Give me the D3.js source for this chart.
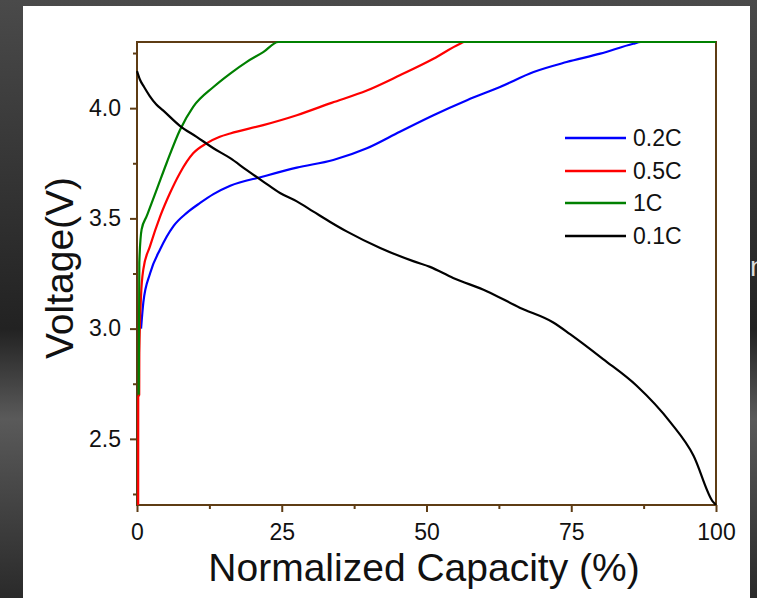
<!DOCTYPE html>
<html><head>
<meta charset="utf-8">
<script src="https://d3js.org/d3.v7.min.js"></script>
<style>
  body { margin: 0; background: #2c2c2c; }
  svg { display: block; }
  text { font-family: "Liberation Sans", Arial, sans-serif; }
</style>
</head>
<body>
<svg id="chart" width="757" height="598"></svg>
<script>
// series: [capacity %, voltage V]
const blue02 = [[0.7,3.0],[1.1,3.12],[2.25,3.25],[4.0,3.36],[6.3,3.465],[8.6,3.525],[10.9,3.57],
  [13.2,3.61],[16.1,3.648],[21.8,3.69],[27.6,3.73],[33.9,3.765],[39.7,3.818],[45.4,3.893],
  [51.2,3.968],[57.0,4.036],[62.7,4.096],[68.5,4.164],[74.2,4.209],[80.0,4.247],[85.7,4.292],
  [87,4.3],[100,4.3]];
const red05 = [[0.2,2.2],[0.21,2.69],[0.38,2.7],[0.4,2.89],[0.7,3.15],[1.1,3.27],[2.25,3.374],[4.0,3.509],
  [5.7,3.615],[7.4,3.705],[9.7,3.795],[12.0,3.84],[14.3,3.87],[16.1,3.885],[21.8,3.923],
  [27.6,3.968],[33.6,4.024],[39.7,4.08],[45.4,4.149],[51.2,4.224],[55.8,4.292],[56.5,4.3],[100,4.3]];
const green1 = [[0.3,2.7],[0.4,3.3],[0.8,3.45],[1.67,3.51],[3.4,3.63],[5.1,3.75],[7.4,3.9],
  [9.7,4.006],[13.2,4.096],[16.1,4.157],[18.9,4.209],[21.8,4.254],[24.4,4.3],[100,4.3]];
const black01 = [[0,4.168],[0.5,4.13],[1.2,4.097],[2.2,4.055],[3.3,4.018],[4.5,3.99],[7.4,3.92],
  [10.3,3.87],[13.2,3.818],[16.1,3.773],[18.9,3.72],[21.8,3.667],[24.7,3.615],[27.6,3.577],
  [30.4,3.532],[33.3,3.485],[36.2,3.441],[42.0,3.366],[47.7,3.306],[50.6,3.28],[54.6,3.23],
  [60.4,3.17],[66.1,3.095],[71.9,3.028],[74.8,2.975],[80.5,2.862],[86.3,2.741],[92.1,2.576],
  [96.1,2.425],[99.5,2.214],[100,2.2]];

const seriesNames = ["0.2C", "0.5C", "1C", "0.1C"];
const seriesColors = ["#0000ff", "#ff0000", "#008000", "#000000"];
const seriesData = [blue02, red05, green1, black01];

const xTicks = [0, 25, 50, 75, 100];
const xMinor = [12.5, 37.5, 62.5, 87.5];
const yTicks = [2.5, 3.0, 3.5, 4.0];
const yMinor = [2.25, 2.75, 3.25, 3.75, 4.25];

const svg = d3.select("#chart");
const axisColor = "#5e3c14";

// dark surround + white panel
const grad = svg.append("defs").append("linearGradient").attr("id", "bg")
  .attr("x1", 0).attr("y1", 0).attr("x2", 0).attr("y2", 1);
grad.append("stop").attr("offset", "0%").attr("stop-color", "#4a4a4a");
grad.append("stop").attr("offset", "55%").attr("stop-color", "#222");
grad.append("stop").attr("offset", "70%").attr("stop-color", "#5a5a5a");
grad.append("stop").attr("offset", "100%").attr("stop-color", "#2a2a2a");
svg.append("rect").attr("width", 757).attr("height", 598).attr("fill", "url(#bg)");
svg.append("text").attr("x", 750).attr("y", 276).attr("font-size", 28).attr("fill", "#ddd").text("n");
svg.append("rect").attr("x", 23).attr("y", 6).attr("width", 727).attr("height", 592).attr("fill", "#fff");

const plotLeft = 137, plotTop = 42, plotW = 579, plotH = 463;
const x = d3.scaleLinear().domain([0, 100]).range([plotLeft, plotLeft + plotW]);
const y = d3.scaleLinear().domain([2.2, 4.3]).range([plotTop + plotH, plotTop]);

// frame first, curves are drawn over it
svg.append("rect").attr("x", plotLeft).attr("y", plotTop).attr("width", plotW).attr("height", plotH)
  .attr("fill", "none").attr("stroke", axisColor).attr("stroke-width", 2);

svg.append("clipPath").attr("id", "clip").append("rect")
  .attr("x", plotLeft - 1).attr("y", plotTop - 2).attr("width", plotW + 2).attr("height", plotH + 2);

const line = d3.line().x(d => x(d[0])).y(d => y(d[1])).curve(d3.curveMonotoneX);

svg.append("g").attr("clip-path", "url(#clip)")
  .selectAll("path").data(seriesData).join("path")
  .attr("d", line)
  .attr("fill", "none")
  .attr("stroke", (d, i) => seriesColors[i])
  .attr("stroke-width", 2.2);

// axes
const xAxis = svg.append("g").attr("transform", "translate(0," + (plotTop + plotH) + ")")
  .call(d3.axisBottom(x).tickValues(xTicks).tickSize(7).tickPadding(12));
const xAxisMinor = svg.append("g").attr("transform", "translate(0," + (plotTop + plotH) + ")")
  .call(d3.axisBottom(x).tickValues(xMinor).tickSize(4).tickFormat(""));
const yAxis = svg.append("g").attr("transform", "translate(" + plotLeft + ",0)")
  .call(d3.axisLeft(y).tickValues(yTicks).tickFormat(d3.format(".1f")).tickSize(7).tickPadding(9));
const yAxisMinor = svg.append("g").attr("transform", "translate(" + plotLeft + ",0)")
  .call(d3.axisLeft(y).tickValues(yMinor).tickSize(4).tickFormat(""));

[xAxis, xAxisMinor, yAxis, yAxisMinor].forEach(a => {
  a.select(".domain").remove();
  a.selectAll("line").attr("stroke", axisColor).attr("stroke-width", 2);
  a.selectAll("text").attr("font-size", 23).attr("fill", "#111")
    .style("font-family", "'Liberation Sans', Arial, sans-serif");
});

// axis titles
svg.append("text").attr("x", 424).attr("y", 581).attr("text-anchor", "middle")
  .attr("font-size", 39).attr("fill", "#111").text("Normalized Capacity (%)");
svg.append("text").attr("transform", "translate(73," + 268 + ") rotate(-90)")
  .attr("text-anchor", "middle").attr("font-size", 39).attr("fill", "#111").text("Voltage(V)");

// legend
const legendY = [138, 171, 203, 236];
const legend = svg.append("g");
seriesNames.forEach((name, i) => {
  legend.append("line").attr("x1", 565).attr("x2", 626)
    .attr("y1", legendY[i]).attr("y2", legendY[i])
    .attr("stroke", seriesColors[i]).attr("stroke-width", 2.5);
  legend.append("text").attr("x", 633).attr("y", legendY[i]).attr("dy", "0.36em")
    .attr("font-size", 23).attr("fill", "#111").text(name);
});
</script>
</body>
</html>
